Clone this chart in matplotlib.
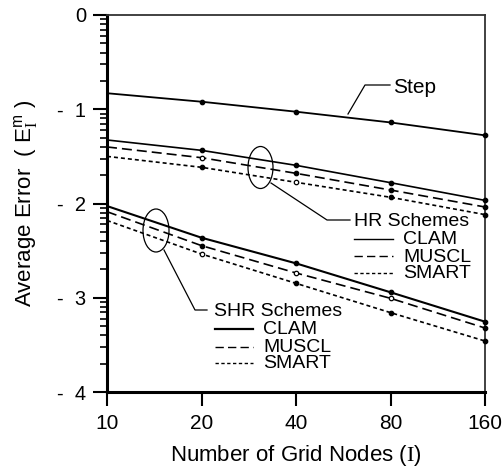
import numpy as np
import matplotlib
matplotlib.use("Agg")
import matplotlib.pyplot as plt
from matplotlib.patches import Ellipse
from matplotlib.lines import Line2D

plt.rcParams['font.family'] = ['Liberation Sans', 'DejaVu Sans']
plt.rcParams['mathtext.fontset'] = 'custom'
plt.rcParams['mathtext.rm'] = 'Liberation Serif'
plt.rcParams['mathtext.sf'] = 'Liberation Sans'
plt.rcParams['mathtext.it'] = 'Liberation Sans'

# ---- data ----
grid_nodes = [10, 20, 40, 80, 160]
step = [-0.83, -0.92, -1.026, -1.14, -1.277]
hr_clam = [-1.326, -1.436, -1.595, -1.779, -1.967]
hr_muscl = [-1.40, -1.514, -1.68, -1.857, -2.037]
hr_smart = [-1.50, -1.616, -1.775, -1.934, -2.118]
shr_clam = [-2.027, -2.363, -2.635, -2.942, -3.254]
shr_muscl = [-2.087, -2.447, -2.737, -3.006, -3.321]
shr_smart = [-2.18, -2.536, -2.847, -3.158, -3.459]
# marker fill (1 = filled, 0 = open) for nodes 20..160
step_fill = [1, 1, 1, 1]
hr_clam_fill = [1, 1, 1, 1]
hr_muscl_fill = [0, 1, 1, 1]
hr_smart_fill = [1, 0, 1, 1]
shr_clam_fill = [1, 1, 1, 1]
shr_muscl_fill = [1, 0, 0, 1]
shr_smart_fill = [0, 1, 1, 1]
x_ticks = [10, 20, 40, 80, 160]
x_ticklabels = ['10', '20', '40', '80', '160']
y_ticks = [-4, -3, -2, -1, 0]
y_ticklabels = ['-  4', '-  3', '-  2', '-  1', '0']

W, H = 504, 472
fig = plt.figure(figsize=(W / 100, H / 100), dpi=100)
ax = fig.add_axes([107 / W, 1 - 392 / H, (485 - 107) / W, (392 - 15) / H])

LONG = (0, (6, 3))
SHORT = (0, (2.4, 1.8))

series = [
    (step, step_fill, '-', 1.3),
    (hr_clam, hr_clam_fill, '-', 1.2),
    (hr_muscl, hr_muscl_fill, LONG, 1.2),
    (hr_smart, hr_smart_fill, SHORT, 1.2),
    (shr_clam, shr_clam_fill, '-', 1.5),
    (shr_muscl, shr_muscl_fill, LONG, 1.2),
    (shr_smart, shr_smart_fill, SHORT, 1.2),
]
for vals, fills, ls, lw in series:
    ax.plot(grid_nodes, vals, color='black', linestyle=ls, linewidth=lw)
    for xv, yv, f in zip(grid_nodes[1:], vals[1:], fills):
        ax.plot([xv], [yv], marker='o', markersize=3.2, markeredgewidth=0.9,
                markeredgecolor='black',
                markerfacecolor='black' if f else 'white', linestyle='none',
                zorder=3, clip_on=False)

ax.set_xscale('log', base=2)
ax.set_xlim(10, 160)
ax.set_ylim(-4, 0)
ax.set_xticks(x_ticks)
ax.set_xticklabels(x_ticklabels)
ax.xaxis.set_minor_locator(matplotlib.ticker.NullLocator())
ax.set_yticks(y_ticks)
ax.set_yticklabels(y_ticklabels)
minor = [d + np.log10(m) for d in range(-4, 0) for m in range(2, 10)]
ax.set_yticks(minor, minor=True)

ax.tick_params(axis='both', which='major', direction='out', length=10, width=1.5)
ax.tick_params(axis='x', which='major', labelsize=15, pad=6)
ax.tick_params(axis='y', which='major', labelsize=14.5, pad=5)
ax.tick_params(axis='y', which='minor', direction='out', length=5, width=1.2)
for s in ['left', 'bottom']:
    ax.spines[s].set_linewidth(2.2)
for s in ['top', 'right']:
    ax.spines[s].set_linewidth(1.3)
    ax.spines[s].set_color('#333333')

ax.set_xlabel(r'Number of Grid Nodes ($\mathrm{I}$)', fontsize=16, labelpad=7)
ax.set_ylabel(r'Average Error  ( $\mathsf{E}_{\mathrm{I}}^{\mathsf{m}}$ )',
              fontsize=16, labelpad=12)


def P(x, y):
    return (x / W, 1 - y / H)


def poly(pts, lw=0.9):
    xs = [P(*p)[0] for p in pts]
    ys = [P(*p)[1] for p in pts]
    fig.add_artist(Line2D(xs, ys, color='black', linewidth=lw, transform=fig.transFigure))


def txt(x, y, s, size=14):
    fx, fy = P(x, y)
    fig.text(fx, fy, s, fontsize=size, ha='left', va='center')


# Step annotation
poly([(348, 114), (365, 85), (390, 85)])
txt(393, 87, 'Step', 15)

# HR ellipse & annotation
fig.add_artist(Ellipse(P(260.5, 167.5), 25 / W, 42 / H, fill=False,
                       edgecolor='black', linewidth=0.9, transform=fig.transFigure))
poly([(271, 183), (327, 220), (350, 220)])
txt(354, 221, 'HR Schemes')
for yy, ls, lw, lab in [(239, '-', 1.0, 'CLAM'), (256, LONG, 1.0, 'MUSCL'),
                        (273, SHORT, 1.0, 'SMART')]:
    fig.add_artist(Line2D([P(354, yy)[0], P(393, yy)[0]], [P(354, yy)[1]] * 2,
                          color='black', linestyle=ls, linewidth=lw,
                          transform=fig.transFigure))
    txt(403, yy + 1, lab)

# SHR ellipse & annotation
fig.add_artist(Ellipse(P(156, 230.5), 26 / W, 43 / H, fill=False,
                       edgecolor='black', linewidth=0.9, transform=fig.transFigure))
poly([(164, 250), (195, 310), (207, 310)])
txt(214, 311, 'SHR Schemes')
for yy, ls, lw, lab in [(329, '-', 1.6, 'CLAM'), (347, LONG, 1.0, 'MUSCL'),
                        (363, SHORT, 1.0, 'SMART')]:
    fig.add_artist(Line2D([P(215, yy)[0], P(253, yy)[0]], [P(215, yy)[1]] * 2,
                          color='black', linestyle=ls, linewidth=lw,
                          transform=fig.transFigure))
    txt(263, yy + 1, lab)

fig.savefig('out.png', dpi=100)
